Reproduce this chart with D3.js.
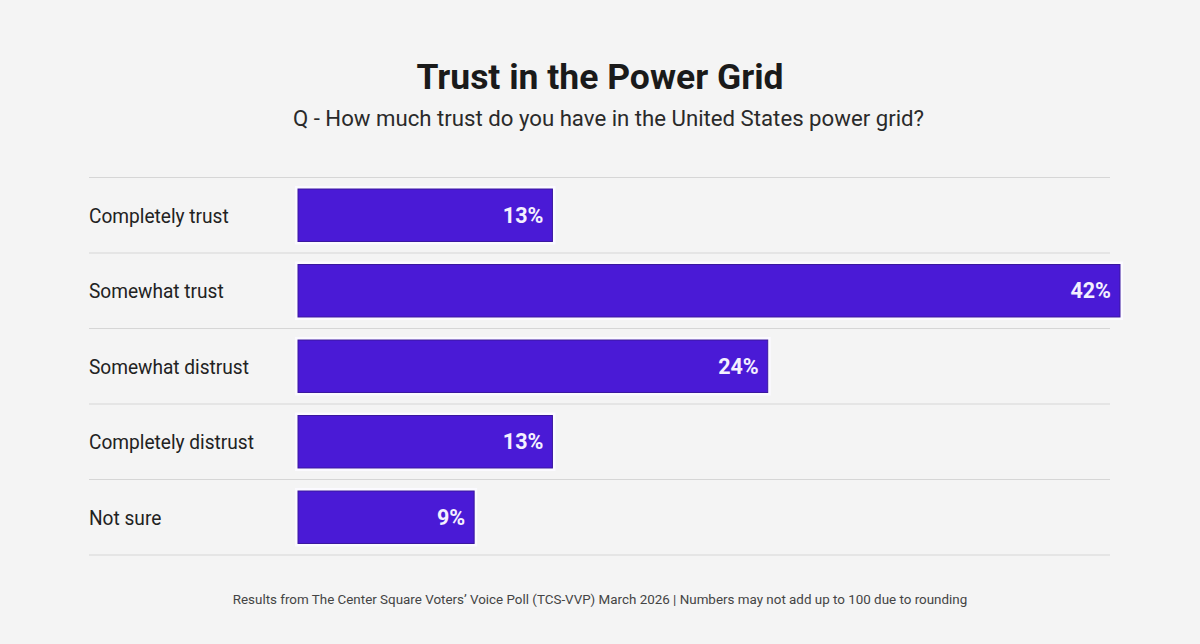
<!DOCTYPE html>
<html>
<head>
<meta charset="utf-8">
<script src="https://cdn.jsdelivr.net/npm/d3@7"></script>
<style>
  html, body { margin: 0; padding: 0; background: #f4f4f4; }
  svg { display: block; font-family: Roboto, "Noto Sans", sans-serif; }
</style>
</head>
<body>
<svg id="chart" width="1200" height="644"></svg>
<script>
const categories = ["Completely trust", "Somewhat trust", "Somewhat distrust", "Completely distrust", "Not sure"];
const values = [13, 42, 24, 13, 9];
const valueLabels = ["13%", "42%", "24%", "13%", "9%"];
const title = "Trust in the Power Grid";
const subtitle = "Q - How much trust do you have in the United States power grid?";
const footer = "Results from The Center Square Voters\u2019 Voice Poll (TCS-VVP) March 2026 | Numbers may not add up to 100 due to rounding";

const W = 1200, H = 644;
const svg = d3.select("#chart");
svg.append("rect").attr("width", W).attr("height", H).attr("fill", "#f4f4f4");

svg.append("text").attr("x", 600).attr("y", 89).attr("text-anchor", "middle")
  .attr("font-size", 35.5).attr("font-weight", 700).attr("fill", "#1a1a1a").text(title);
svg.append("text").attr("x", 608.5).attr("y", 126).attr("text-anchor", "middle")
  .attr("font-size", 22.2).attr("fill", "#2a2a2a").text(subtitle);

const y = d3.scaleBand().domain(categories).range([177.5, 555]).paddingInner(0.305).paddingOuter(0.1525);
const x = d3.scaleLinear().domain([0, 42]).range([298, 1120]);

const stepY = (555 - 177.5) / categories.length;
const lines = d3.range(categories.length + 1).map(i => 177.5 + i * stepY);
svg.selectAll("line.sep").data(lines).enter().append("line")
  .attr("x1", 89).attr("x2", 1110).attr("y1", d => d).attr("y2", d => d)
  .attr("stroke", "#d6d6d6").attr("stroke-width", 1.2);

const rows = categories.map((c, i) => ({ c, v: values[i], l: valueLabels[i] }));

svg.selectAll("text.cat").data(rows).enter().append("text")
  .attr("transform", d => `translate(89,${y(d.c) + y.bandwidth() / 2}) scale(0.91,1)`)
  .attr("dy", "0.35em").attr("font-size", 21).attr("fill", "#222")
  .text(d => d.c);

svg.selectAll("rect.halo").data(rows).enter().append("rect")
  .attr("x", x(0) - 3).attr("y", d => y(d.c) - 3)
  .attr("width", d => x(d.v) - x(0) + 6).attr("height", y.bandwidth() + 6)
  .attr("fill", "#fbfaff");

svg.selectAll("rect.bar").data(rows).enter().append("rect")
  .attr("x", x(0)).attr("y", d => y(d.c))
  .attr("width", d => x(d.v) - x(0)).attr("height", y.bandwidth())
  .attr("fill", "#4a1ad6").attr("stroke", "#3a179e").attr("stroke-width", 1);

svg.selectAll("text.val").data(rows).enter().append("text")
  .attr("x", d => x(d.v) - 9).attr("y", d => y(d.c) + y.bandwidth() / 2)
  .attr("dy", "0.35em").attr("text-anchor", "end")
  .attr("font-size", 21.5).attr("font-weight", 700).attr("fill", "#f4f0ff")
  .text(d => d.l);

svg.append("text").attr("x", 600).attr("y", 604).attr("text-anchor", "middle")
  .attr("font-size", 13.4).attr("fill", "#444").text(footer);
</script>
</body>
</html>
